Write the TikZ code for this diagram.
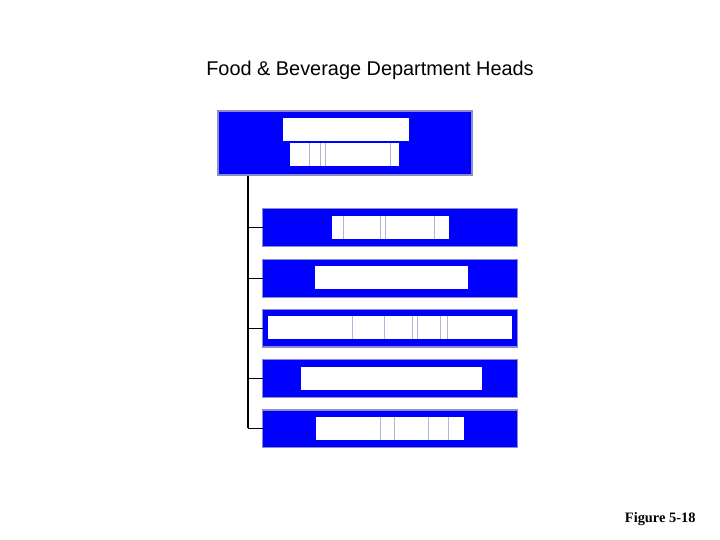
\documentclass[tikz,border=0pt]{standalone}
\usepackage{fontspec}
\setmainfont{Liberation Serif}
\newfontfamily\arialf{Liberation Sans}
\definecolor{boxblue}{HTML}{0000FF}
\definecolor{boxedge}{HTML}{8C8CC8}
\definecolor{faint}{HTML}{B4B4D8}
\begin{document}
\begin{tikzpicture}[x=1pt,y=-1pt,
  bluebox/.style={draw=boxedge,line width=1.4pt,fill=boxblue,inner sep=0pt,outer sep=0pt,anchor=north west},
  whitebox/.style={fill=white,draw=none,inner sep=0pt,outer sep=0pt,anchor=north west},
  faintline/.style={draw=faint,line width=0.6pt},
  conn/.style={draw=black,line width=1.4pt}]
\useasboundingbox (0,0) rectangle (720,540);
\fill[white] (0,0) rectangle (720,540);
% title
\node[font=\arialf\fontsize{19.9}{22}\selectfont,anchor=base] (title) at (370,76) {Food \& Beverage Department Heads};
\node[font=\bfseries\fontsize{14.4}{16}\selectfont,anchor=base east] (fig) at (699,522) {Figure 5-18};
% top box
\node[bluebox,minimum width=254,minimum height=64] (top) at (218,111) {};
\node[whitebox,minimum width=126,minimum height=23] (topw1) at (283,118) {};
\node[whitebox,minimum width=109,minimum height=23] (topw2) at (290,143.5) {};
\foreach \x in {309.3,320,325.3,390} \draw[faintline] (\x,143.5) -- (\x,166.5);
% child boxes
\node[bluebox,minimum width=255,minimum height=38] (c1) at (262.5,208.5) {};
\node[bluebox,minimum width=255,minimum height=38] (c2) at (262.5,259.2) {};
\node[bluebox,minimum width=255,minimum height=37.5] (c3) at (262.5,309.5) {};
\node[bluebox,minimum width=255,minimum height=38] (c4) at (262.5,359.5) {};
\node[bluebox,minimum width=255,minimum height=37.5] (c5) at (262.5,410) {};
% white inner boxes
\node[whitebox,minimum width=117,minimum height=23.3] (w1) at (331.7,215.7) {};
\foreach \x in {343.3,380.7,385.7,434.3} \draw[faintline] (\x,215.7) -- (\x,239);
\node[whitebox,minimum width=152.7,minimum height=23.3] (w2) at (315,266) {};
\node[whitebox,minimum width=244.6,minimum height=23.6] (w3) at (267.7,315.7) {};
\foreach \x in {352.3,384.3,412.3,417,440.7,447.3} \draw[faintline] (\x,315.7) -- (\x,339.3);
\node[whitebox,minimum width=181.3,minimum height=23.3] (w4) at (300.7,366.7) {};
\node[whitebox,minimum width=148,minimum height=23.3] (w5) at (316,416.7) {};
\foreach \x in {380.7,394.3,428.3,448.3} \draw[faintline] (\x,416.7) -- (\x,440);
% connectors
\coordinate (trunktop) at (248,175.7);
\coordinate (trunkbot) at (248,428.3);
\draw[conn] (trunktop) -- (trunkbot);
\foreach \c in {c1,c2,c3,c4,c5} \draw[conn] (\c.west -| trunktop) -- (\c.west);
\end{tikzpicture}
\end{document}
